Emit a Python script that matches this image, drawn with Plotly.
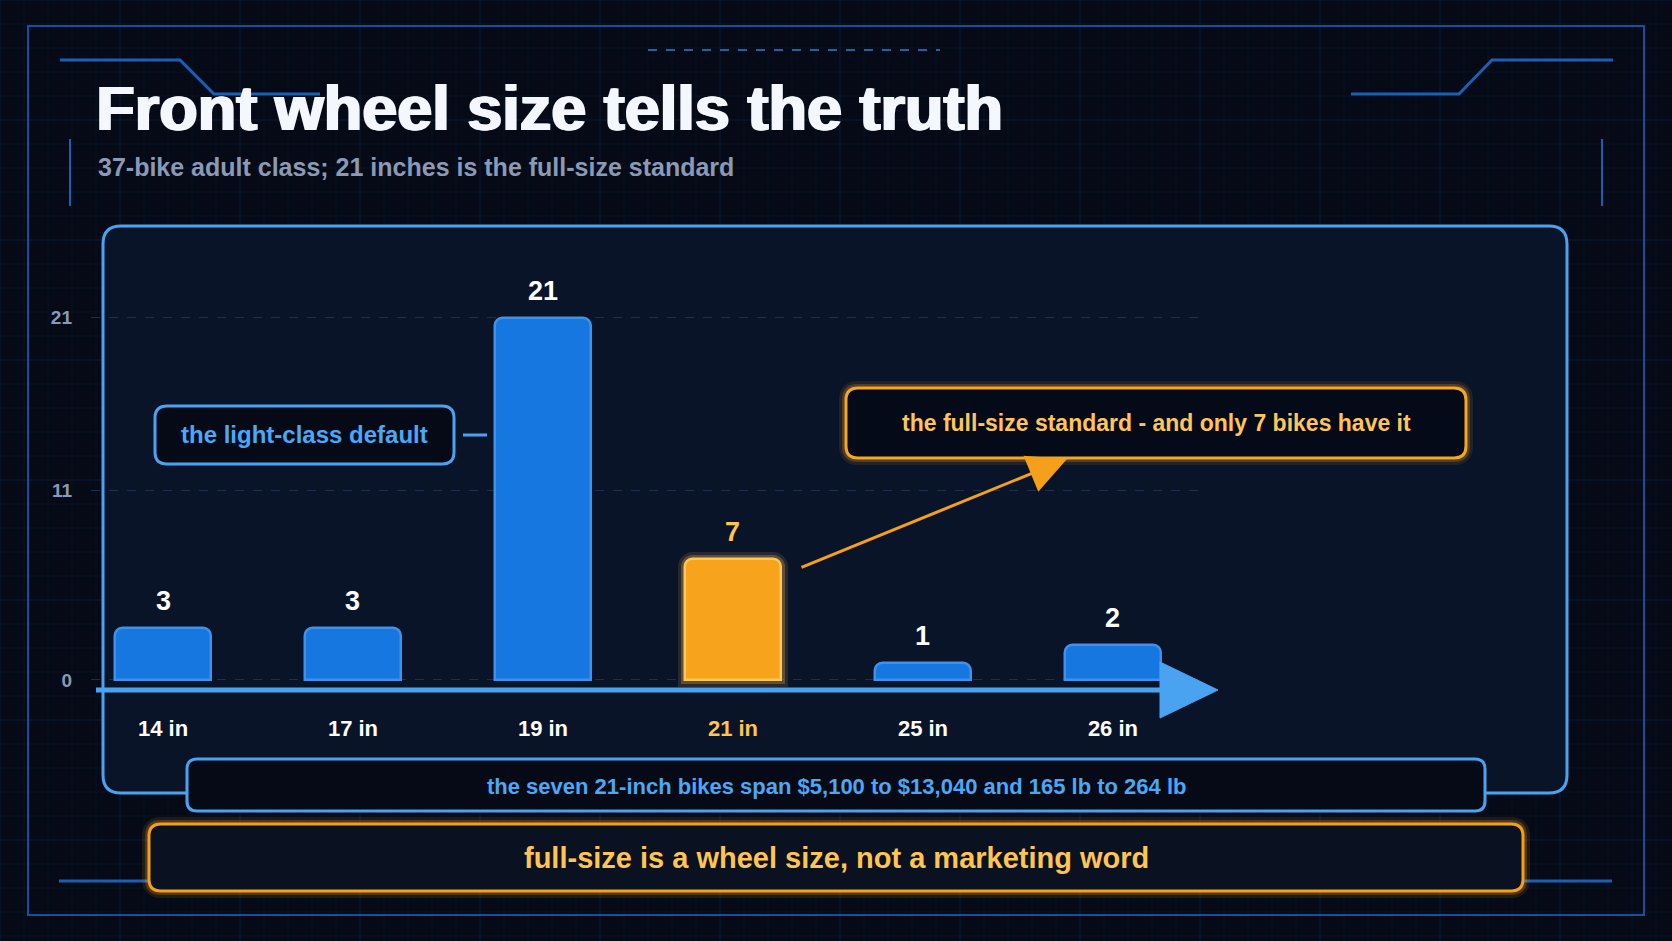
import plotly.graph_objects as go

W, H = 1672, 941
FONT = "Liberation Sans, Arial, sans-serif"

SIZES = ["14 in", "17 in", "19 in", "21 in", "25 in", "26 in"]
COUNTS = [3, 3, 21, 7, 1, 2]
HIGHLIGHT = "21 in"
Y_TICKS = [0, 11, 21]

TITLE = "Front wheel size tells the truth"
SUBTITLE = "37-bike adult class; 21 inches is the full-size standard"
NOTE_LIGHT = "the light-class default"
NOTE_FULL = "the full-size standard - and only 7 bikes have it"
FOOTNOTE = "the seven 21-inch bikes span $5,100 to $13,040 and 165 lb to 264 lb"
TAKEAWAY = "full-size is a wheel size, not a marketing word"

BG = "#060a16"
PANEL = "#0a1429"
BLUE = "#1677e0"
BLUE_EDGE = "#3f91ea"
LIGHT_BLUE = "#4aa3f0"
ORANGE = "#f7a31c"
ORANGE_EDGE = "#ffc75a"
GOLD = "#ffc452"
GREY = "#8a9ab6"
TITLE_WHITE = "#f4f7fd"


def px(x):
    return x / W


def py(y):
    return 1 - y / H


def rrect(x0, y0, x1, y1, r):
    # rounded rectangle path, pixel coords in, paper coords out
    pts = [
        ("M", [(x0 + r, y0)]),
        ("L", [(x1 - r, y0)]),
        ("Q", [(x1, y0), (x1, y0 + r)]),
        ("L", [(x1, y1 - r)]),
        ("Q", [(x1, y1), (x1 - r, y1)]),
        ("L", [(x0 + r, y1)]),
        ("Q", [(x0, y1), (x0, y1 - r)]),
        ("L", [(x0, y0 + r)]),
        ("Q", [(x0, y0), (x0 + r, y0)]),
    ]
    out = ""
    for cmd, ps in pts:
        out += cmd + " ".join(f"{px(a):.5f},{py(b):.5f}" for a, b in ps) + " "
    return out + "Z"


def box(x0, y0, x1, y1, r, line, fill, width=3, glow=None, layer="below"):
    shapes = []
    if glow:
        for w, a in [(14, 0.10), (8, 0.22)]:
            shapes.append(dict(type="path", path=rrect(x0, y0, x1, y1, r), xref="paper", yref="paper",
                               line=dict(color=f"rgba({glow},{a})", width=w), layer=layer))
    shapes.append(dict(type="path", path=rrect(x0, y0, x1, y1, r), xref="paper", yref="paper",
                       line=dict(color=line, width=width), fillcolor=fill, layer=layer))
    return shapes


def line(x0, y0, x1, y1, color, width, dash="solid", layer="below"):
    return dict(type="line", xref="paper", yref="paper", x0=px(x0), y0=py(y0), x1=px(x1), y1=py(y1),
                line=dict(color=color, width=width, dash=dash), layer=layer)


def poly(points, color, width):
    path = "M" + " L".join(f"{px(a):.5f},{py(b):.5f}" for a, b in points)
    return dict(type="path", path=path, xref="paper", yref="paper",
                line=dict(color=color, width=width), layer="below")


def label(x, y, text, size, color, xanchor="center"):
    return dict(x=px(x), y=py(y), xref="paper", yref="paper", xanchor=xanchor, yanchor="middle",
                text=text, showarrow=False, font=dict(family=FONT, size=size, weight="bold", color=color))


shapes = []

# background grid
for gx in range(0, W + 1, 24):
    major = gx % 120 == 0
    shapes.append(line(gx, 0, gx, H, "rgba(30,90,160,0.22)" if major else "rgba(30,80,140,0.10)", 1))
for gy in range(0, H + 1, 24):
    major = gy % 120 == 0
    shapes.append(line(0, gy, W, gy, "rgba(30,90,160,0.22)" if major else "rgba(30,80,140,0.10)", 1))

# frame and decorations
shapes.append(dict(type="rect", xref="paper", yref="paper", x0=px(28), y0=py(26), x1=px(1644), y1=py(915),
                   line=dict(color="#1450a0", width=2), layer="below"))
shapes.append(poly([(60, 60), (180, 60), (214, 94), (320, 94)], "#1a5fb4", 3))
shapes.append(poly([(1351, 94), (1459, 94), (1492, 60), (1613, 60)], "#1a5fb4", 3))
shapes.append(line(648, 50, 940, 50, "#2a5f9e", 2, dash="dash"))
shapes.append(line(70, 139, 70, 206, "#1a5fb4", 2))
shapes.append(line(1602, 139, 1602, 206, "#1a5fb4", 2))
shapes.append(line(59, 881, 1612, 881, "#1a5fb4", 3))

# chart panel
shapes += box(103, 226, 1567, 793, 18, LIGHT_BLUE, PANEL, width=3)

# x axis arrow
shapes.append(line(96, 690, 1162, 690, LIGHT_BLUE, 5, layer="above"))
shapes.append(dict(type="path", xref="paper", yref="paper", layer="above",
                   path=f"M{px(1160)},{py(662)} L{px(1218)},{py(690)} L{px(1160)},{py(718)} Z",
                   fillcolor=LIGHT_BLUE, line=dict(color=LIGHT_BLUE, width=1)))

# callouts
shapes += box(155, 406, 454, 464, 12, LIGHT_BLUE, "#060a16", width=3)
shapes.append(line(463, 435, 487, 435, LIGHT_BLUE, 3))
shapes += box(846, 388, 1466, 458, 12, "#f5a623", "#050a18", width=3, glow="255,170,40")
shapes += box(187, 759, 1485, 811, 10, LIGHT_BLUE, "#060a17", width=3)
shapes += box(149, 824, 1523, 891, 12, "#f5a01a", "#0a1222", width=3, glow="255,170,40")

fig = go.Figure()

# glow behind the highlighted bar
for w, a in [(14, 0.12), (8, 0.25)]:
    fig.add_trace(go.Bar(
        x=SIZES,
        y=[c if s == HIGHLIGHT else None for s, c in zip(SIZES, COUNTS)],
        width=0.51,
        marker=dict(color="rgba(0,0,0,0)", line=dict(color=f"rgba(255,200,80,{a})", width=w), cornerradius=8),
        hoverinfo="skip",
        showlegend=False,
    ))

fig.add_trace(go.Bar(
    x=SIZES,
    y=COUNTS,
    width=0.51,
    marker=dict(
        color=[ORANGE if s == HIGHLIGHT else BLUE for s in SIZES],
        line=dict(color=[ORANGE_EDGE if s == HIGHLIGHT else BLUE_EDGE for s in SIZES], width=2.5),
        cornerradius=8,
    ),
    showlegend=False,
))

annotations = []
for s, c in zip(SIZES, COUNTS):
    annotations.append(dict(
        x=s, y=c, xref="x", yref="y", text=str(c), showarrow=False,
        yanchor="bottom", yshift=10,
        font=dict(family=FONT, size=27, weight="bold", color=GOLD if s == HIGHLIGHT else "#ffffff"),
    ))

annotations += [
    label(96, 167, SUBTITLE, 25, GREY, xanchor="left"),
    label(304, 435, NOTE_LIGHT, 24, "#4aa9f7"),
    label(1156, 423, NOTE_FULL, 23, "#ffc55a"),
    label(836, 786, FOOTNOTE, 22, "#4aa8f5"),
    label(836, 858, TAKEAWAY, 29, GOLD),
    # arrow from the highlighted bar to its callout
    dict(x=px(1067), y=py(459), xref="paper", yref="paper", ax=800 - 1067, ay=568 - 459,
         text="", showarrow=True, arrowhead=2, arrowsize=2.6, arrowwidth=3, arrowcolor="#f5a01a",
         standoff=0, startstandoff=0),
]

ticktext = [f'<span style="color:{GOLD}">{s}</span>' if s == HIGHLIGHT else s for s in SIZES]

fig.update_layout(
    width=W,
    height=H,
    autosize=False,
    margin=dict(l=0, r=0, t=0, b=0),
    paper_bgcolor=BG,
    plot_bgcolor="rgba(0,0,0,0)",
    barmode="overlay",
    bargap=0,
    title=dict(text=TITLE, x=px(96), xanchor="left", y=py(108), yanchor="middle",
               font=dict(family=FONT, size=63, weight="bold", color=TITLE_WHITE,
                         shadow=f"1.5px 0px 0px {TITLE_WHITE}, -1px 0px 0px {TITLE_WHITE}")),
    xaxis=dict(
        domain=[px(91), px(1203)],
        type="category",
        range=[-0.379, 5.474],
        tickvals=SIZES,
        ticktext=ticktext,
        showgrid=False, zeroline=False, showline=False, ticks="",
        tickfont=dict(family=FONT, size=22, weight="bold", color="#ffffff"),
        ticklabelstandoff=23,
    ),
    yaxis=dict(
        domain=[py(690), py(240)],
        range=[-0.58, 25.5],
        tickvals=Y_TICKS,
        showgrid=True, gridcolor="#1b3050", griddash="dash", gridwidth=1,
        zeroline=False, showline=False, ticks="",
        tickfont=dict(family=FONT, size=19, weight="bold", color=GREY),
        ticklabelstandoff=18,
    ),
    shapes=shapes,
    annotations=annotations,
)

fig.write_html(
    "out.html",
    config={"displayModeBar": False},
    post_script=f"document.body.style.margin='0';document.body.style.background='{BG}';",
)
